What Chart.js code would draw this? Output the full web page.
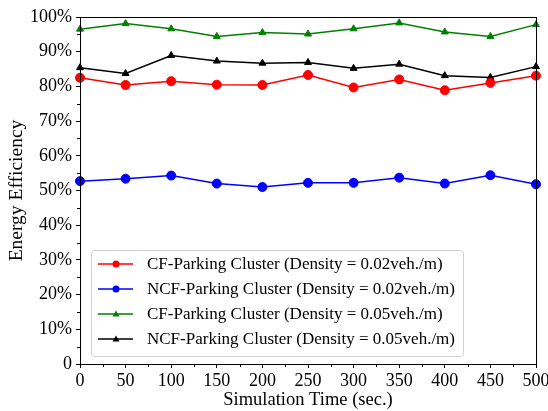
<!DOCTYPE html>
<html>
<head>
<meta charset="UTF-8">
<title>Energy Efficiency</title>
<script src="https://cdn.jsdelivr.net/npm/chart.js@4.4.1/dist/chart.umd.min.js"></script>
<style>
  html, body { margin: 0; padding: 0; background: #fff; }
  #wrap { width: 548px; height: 411px; }
</style>
</head>
<body>
<div id="wrap"><canvas id="effChart" width="548" height="411"></canvas></div>
<script>
// simulation time (sec.) and efficiency (%) per series
const times = [0, 50, 100, 150, 200, 250, 300, 350, 400, 450, 500];
const cfLow = [82.5, 80.4, 81.5, 80.5, 80.4, 83.3, 79.7, 82.0, 78.9, 81.0, 83.1];
const ncfLow = [52.7, 53.4, 54.3, 52.0, 51.0, 52.2, 52.2, 53.7, 52.0, 54.4, 51.8];
const cfHigh = [96.5, 98.1, 96.6, 94.4, 95.5, 95.1, 96.6, 98.3, 95.7, 94.4, 97.8];
const ncfHigh = [85.4, 83.7, 88.9, 87.3, 86.7, 86.9, 85.2, 86.4, 83.1, 82.6, 85.7];
const yTicks = [0, 10, 20, 30, 40, 50, 60, 70, 80, 90, 100];
const xTicks = [0, 50, 100, 150, 200, 250, 300, 350, 400, 450, 500];

const serif = "'Liberation Serif', 'Times New Roman', serif";

function series(label, values, color, shape) {
    return {
        label: label,
        data: times.map((t, i) => ({ x: t, y: values[i] })),
        borderColor: color,
        backgroundColor: color,
        pointBackgroundColor: color,
        pointBorderColor: color,
        pointStyle: shape,
        pointRadius: shape === 'circle' ? 4.5 : 4,
        pointBorderWidth: 1,
        borderWidth: 1.5,
        tension: 0,
        clip: false
    };
}

// minor ticks, box frame and in-plot legend
const framePlugin = {
    id: 'frame',
    afterDraw(chart) {
        const ctx = chart.ctx;
        const a = chart.chartArea;
        const xs = chart.scales.x, ys = chart.scales.y;
        ctx.save();
        ctx.strokeStyle = '#000';
        ctx.lineWidth = 1;
        ctx.beginPath();
        for (let v = 25; v < 500; v += 50) {
            const px = Math.round(xs.getPixelForValue(v)) + 0.5;
            ctx.moveTo(px, a.bottom); ctx.lineTo(px, a.bottom + 3);
        }
        for (let v = 5; v < 100; v += 10) {
            const py = Math.round(ys.getPixelForValue(v)) + 0.5;
            ctx.moveTo(a.left, py); ctx.lineTo(a.left - 3, py);
        }
        ctx.stroke();
        ctx.strokeRect(Math.round(a.left) + 0.5, Math.round(a.top) + 0.5,
            Math.round(a.right - a.left), Math.round(a.bottom - a.top));

        // legend
        const bx = 91, by = 250, bw = 372, bh = 106;
        ctx.fillStyle = 'rgba(255,255,255,0.8)';
        ctx.strokeStyle = '#d0d0d0';
        ctx.beginPath();
        ctx.roundRect(bx + 0.5, by + 0.5, bw, bh, 3);
        ctx.fill();
        ctx.stroke();
        ctx.font = '17px ' + serif;
        ctx.textBaseline = 'middle';
        chart.data.datasets.forEach((ds, i) => {
            const y = by + 14 + i * 25;
            ctx.strokeStyle = ds.borderColor;
            ctx.lineWidth = 1.5;
            ctx.beginPath();
            ctx.moveTo(98, y); ctx.lineTo(133, y);
            ctx.stroke();
            ctx.fillStyle = ds.borderColor;
            ctx.beginPath();
            if (ds.pointStyle === 'circle') {
                ctx.arc(116, y, 3.5, 0, Math.PI * 2);
            } else {
                ctx.moveTo(116, y - 3.5); ctx.lineTo(119.5, y + 2.5); ctx.lineTo(112.5, y + 2.5);
                ctx.closePath();
            }
            ctx.fill();
            ctx.fillStyle = '#000';
            ctx.fillText(ds.label, 147, y + 1);
        });
        ctx.restore();
    }
};

new Chart(document.getElementById('effChart'), {
    type: 'line',
    data: {
        datasets: [
            series('CF-Parking Cluster (Density = 0.02veh./m)', cfLow, '#ff0000', 'circle'),
            series('NCF-Parking Cluster (Density = 0.02veh./m)', ncfLow, '#0000ff', 'circle'),
            series('CF-Parking Cluster (Density = 0.05veh./m)', cfHigh, '#008000', 'triangle'),
            series('NCF-Parking Cluster (Density = 0.05veh./m)', ncfHigh, '#000000', 'triangle')
        ]
    },
    options: {
        responsive: false,
        animation: false,
        layout: { padding: { top: 17, right: 12, left: 0, bottom: 0 } },
        plugins: { legend: { display: false }, tooltip: { enabled: false } },
        scales: {
            x: {
                type: 'linear',
                min: 0, max: 500,
                afterBuildTicks: s => { s.ticks = xTicks.map(v => ({ value: v })); },
                afterFit: s => { s.height = 47; s.paddingRight = 0; s.paddingLeft = 0; },
                ticks: { color: '#000', font: { family: serif, size: 18 }, padding: 2, maxRotation: 0 },
                grid: { drawOnChartArea: false, drawTicks: true, tickLength: 4, color: '#000' },
                border: { color: '#000' },
                title: { display: true, text: 'Simulation Time (sec.)', color: '#000',
                         font: { family: serif, size: 18.5 }, padding: { top: 0, bottom: 0 } }
            },
            y: {
                min: 0, max: 100,
                afterBuildTicks: s => { s.ticks = yTicks.map(v => ({ value: v })); },
                afterFit: s => { s.width = 80; },
                ticks: { color: '#000', font: { family: serif, size: 18 }, padding: 4,
                         callback: v => v === 0 ? '0' : v + '%' },
                grid: { drawOnChartArea: false, drawTicks: true, tickLength: 4, color: '#000' },
                border: { color: '#000' },
                title: { display: true, text: 'Energy Efficiency', color: '#000',
                         font: { family: serif, size: 19.5 }, padding: { top: 5, bottom: 0 } }
            }
        }
    },
    plugins: [framePlugin]
});
</script>
</body>
</html>
